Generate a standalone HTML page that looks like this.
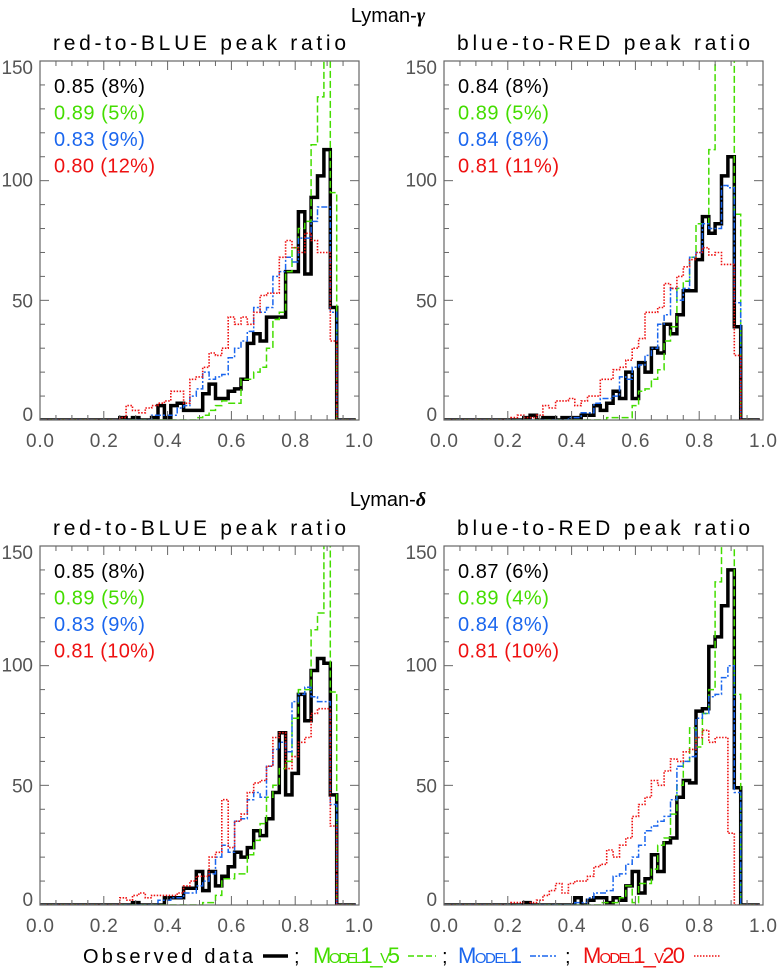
<!DOCTYPE html>
<html><head><meta charset="utf-8">
<style>
html,body{margin:0;padding:0;background:#fff;}
svg{display:block;font-family:"Liberation Sans",sans-serif;}
</style></head>
<body>
<svg id="fig" width="777" height="970" viewBox="0 0 777 970" xmlns="http://www.w3.org/2000/svg">
<defs>
<clipPath id="c0"><rect x="40" y="61" width="319" height="359"/></clipPath>
<clipPath id="c1"><rect x="444" y="61" width="319" height="359"/></clipPath>
<clipPath id="c2"><rect x="40" y="546" width="319" height="359"/></clipPath>
<clipPath id="c3"><rect x="444" y="546" width="319" height="359"/></clipPath>
</defs>
<text x="388" y="22" text-anchor="middle" font-size="20">Lyman-<tspan font-family="Liberation Serif" font-style="italic" font-weight="bold">γ</tspan></text>
<text x="388" y="506" text-anchor="middle" font-size="20">Lyman-<tspan font-family="Liberation Serif" font-style="italic" font-weight="bold">δ</tspan></text>
<g id="panels"></g>
<g font-size="20">
<text x="83" y="963" fill="#000" textLength="170" lengthAdjust="spacing">Observed data</text>
<line x1="263" y1="956" x2="288" y2="956" stroke="#000" stroke-width="3.5"/>
<text x="294" y="963">;</text>
<text x="313" y="963" fill="#44dd00" font-size="22" font-variant="small-caps" textLength="87" lengthAdjust="spacing">Model1_v5</text>
<line x1="408" y1="956" x2="436" y2="956" stroke="#44dd00" stroke-width="1.5" stroke-dasharray="6,3"/>
<text x="442" y="963">;</text>
<text x="458" y="963" fill="#1a66ee" font-size="22" font-variant="small-caps" textLength="64" lengthAdjust="spacing">Model1</text>
<line x1="530" y1="956" x2="556" y2="956" stroke="#1a66ee" stroke-width="1.5" stroke-dasharray="6,2,2,2"/>
<text x="565" y="963">;</text>
<text x="583" y="963" fill="#ee1111" font-size="22" font-variant="small-caps" textLength="102" lengthAdjust="spacing">Model1_v20</text>
<line x1="694" y1="956" x2="721" y2="956" stroke="#ee1111" stroke-width="1.5" stroke-dasharray="1.5,1.5"/>
</g>
</svg>
<script>
// Histogram bins centred at 0.02*k, values listed from k=11 onward (earlier bins are 0)
const binCenters = Array.from({length:50},(_, k)=>k*0.02);
const xTicks = ["0.0","0.2","0.4","0.6","0.8","1.0"];
const yTicks = ["0","50","100","150"];
const titles = ["red-to-BLUE peak ratio","blue-to-RED peak ratio","red-to-BLUE peak ratio","blue-to-RED peak ratio"];
const statsObs = ["0.85 (8%)","0.84 (8%)","0.85 (8%)","0.87 (6%)"];
const statsV5 = ["0.89 (5%)","0.89 (5%)","0.89 (5%)","0.89 (4%)"];
const statsM1 = ["0.83 (9%)","0.84 (8%)","0.83 (9%)","0.84 (8%)"];
const statsV20 = ["0.80 (12%)","0.81 (11%)","0.81 (10%)","0.81 (10%)"];
// k = 11..47
const obsTL = [0,0,1,0,1,0,0,1,6,1,6,7,4,4,4,11,15,9,9,12,13,17,32,36,33,43,43,43,62,62,87,61,93,102,113,47,0];
const v5TL  = [0,0,0,0,0,0,0,0,0,0,0,0,0,0,1,2,4,6,8,7,7,17,17,20,22,30,42,45,62,72,80,83,115,135,170,95,0];
const m1TL  = [0,0,0,0,0,0,0,2,2,2,2,5,6,10,13,20,17,18,19,26,30,33,37,47,45,47,60,62,68,66,76,76,83,89,89,45,0];
const v20TL = [0,0,1,6,4,3,5,6,7,8,12,12,7,17,18,22,28,27,30,43,40,43,40,45,52,53,53,68,75,72,70,78,75,70,70,33,0];
const obsTR = [0,0,1,2,0,1,1,0,1,1,1,2,2,6,4,7,12,9,20,9,24,20,30,28,40,36,44,54,54,67,85,78,82,102,110,39,0];
const v5TR  = [0,0,0,0,0,0,0,0,0,0,0,0,0,0,0,1,1,1,1,6,12,13,17,21,33,39,55,58,68,82,82,113,170,170,170,86,0];
const m1TR  = [0,0,0,0,0,0,0,0,0,1,1,3,3,7,9,9,10,18,17,22,23,27,30,40,44,55,50,55,68,70,82,80,80,98,97,49,0];
const v20TR = [1,2,1,1,2,6,5,8,8,9,6,8,10,10,17,17,21,22,25,30,34,45,45,47,57,55,60,64,67,70,72,69,70,65,65,27,0];
const obsBL = [0,0,0,0,1,0,0,0,0,3,3,3,7,7,14,6,14,8,12,16,22,20,24,31,29,36,47,72,46,55,88,77,98,103,101,46,0];
const v5BL  = [0,0,0,0,0,0,0,0,0,0,0,0,0,0,0,1,1,4,11,11,13,13,21,27,34,45,50,57,60,78,90,90,115,122,170,89,0];
const m1BL  = [0,0,0,0,0,0,0,0,2,2,3,3,5,5,8,10,13,20,25,22,35,36,44,47,45,58,65,68,64,85,88,91,87,85,85,42,0];
const v20BL = [0,0,3,2,4,5,3,4,4,4,4,5,8,10,12,12,20,22,44,24,35,38,47,51,52,58,70,72,57,62,68,70,80,82,82,33,0];
const obsBR = [0,0,1,0,0,0,0,0,0,0,3,0,2,3,3,1,3,2,8,14,5,11,21,14,26,28,45,52,51,81,82,108,112,125,140,49,0];
const v5BR  = [0,0,0,0,0,0,0,0,0,0,0,0,0,0,1,1,1,3,8,1,9,9,15,25,28,38,50,60,74,66,80,90,135,170,170,88,0];
const m1BR  = [0,0,0,0,0,0,0,0,0,0,1,1,3,5,5,6,12,13,17,20,25,31,33,35,37,44,58,60,62,78,80,87,88,95,100,47,0];
const v20BR = [1,1,0,1,2,4,6,9,5,9,10,10,12,16,17,23,20,25,28,37,42,45,52,50,56,61,60,64,65,70,73,68,70,70,30,0,0];

const series = [[obsTL,v5TL,m1TL,v20TL],[obsTR,v5TR,m1TR,v20TR],[obsBL,v5BL,m1BL,v20BL],[obsBR,v5BR,m1BR,v20BR]];
const NS="http://www.w3.org/2000/svg";
const boxes=[{x:40,y:61},{x:444,y:61},{x:40,y:546},{x:444,y:546}];
const W=319,H=359,YMAX=150;
const styles=[
 {c:"#000",w:3.5,d:"",n:"observed"},
 {c:"#44dd00",w:1.5,d:"7,3",n:"model1-v5"},
 {c:"#1a66ee",w:1.5,d:"6,2,2,2",n:"model1"},
 {c:"#ee1111",w:1.6,d:"1.5,1.5",n:"model1-v20"}];
const panelNames=["lyman-gamma-red-to-blue","lyman-gamma-blue-to-red","lyman-delta-red-to-blue","lyman-delta-blue-to-red"];
function mk(t,a,p){const e=document.createElementNS(NS,t);for(const k in a)e.setAttribute(k,a[k]);p.appendChild(e);return e;}
const root=document.getElementById('panels');
boxes.forEach((b,pi)=>{
 const g=mk('g',{},root);
 
 
 const xs=v=>b.x+v*W, ys=v=>b.y+H-v*H/YMAX;
 const t=mk('text',{x:b.x+13,y:b.y-11,'font-size':'21',textLength:293,lengthAdjust:'spacing'},g);t.textContent=titles[pi];
 
 
 series[pi].forEach((arr,si)=>{
  const full=new Array(11).fill(0).concat(arr);
  while(full.length<50)full.push(0);
  let d="";
  binCenters.forEach((c,k)=>{
   const x0=Math.max(0,c-0.01),x1=Math.min(1,c+0.01),y=ys(full[k]);
   d+=(k===0?"M":"L")+xs(x0).toFixed(1)+","+y.toFixed(1)+"L"+xs(x1).toFixed(1)+","+y.toFixed(1);
  });
  const st=styles[si];
  const p=mk('path',{d:d,fill:'none',stroke:st.c,'stroke-width':st.w,'clip-path':'url(#c'+pi+')','stroke-linejoin':'miter'},g);
  if(st.d)p.setAttribute('stroke-dasharray',st.d);
  
  
 });
 const r=mk('rect',{x:b.x,y:b.y,width:W,height:H,fill:'none',stroke:'#666','stroke-width':1.2},g);
 
 
 for(let i=0;i<=20;i++){const v=i*0.05,x=xs(v),L=(i%4===0)?9:5;
  mk('line',{x1:x,y1:b.y+H,x2:x,y2:b.y+H-L,stroke:'#666'},g);
  mk('line',{x1:x,y1:b.y,x2:x,y2:b.y+L,stroke:'#666'},g);}
 for(let i=0;i<=15;i++){const y=ys(i*10),L=(i%5===0)?9:5;
  mk('line',{x1:b.x,y1:y,x2:b.x+L,y2:y,stroke:'#666'},g);
  mk('line',{x1:b.x+W,y1:y,x2:b.x+W-L,y2:y,stroke:'#666'},g);}
 xTicks.forEach((s,i)=>{const e=mk('text',{x:xs(i*0.2)-14,y:b.y+H+27,'font-size':'19',fill:'#555',textLength:28,lengthAdjust:'spacing'},g);e.textContent=s;
  
  });
 yTicks.forEach((s,i)=>{const offs=[1,7,6,13];const y=ys(i*50)+offs[i];
  const wl=s.length*10.5;
  const e=mk('text',{x:b.x-7-wl,y:y,'font-size':'19',fill:'#555',textLength:wl,lengthAdjust:'spacing'},g);e.textContent=s;
  
  });
 [[statsObs,'#000'],[statsV5,'#44dd00'],[statsM1,'#1a66ee'],[statsV20,'#ee1111']].forEach((a,i)=>{
  const s=a[0][pi];
  const e=mk('text',{x:b.x+14,y:b.y+32+i*26.5,'font-size':'20',fill:a[1],textLength:s.length*10.1,lengthAdjust:'spacing'},g);e.textContent=s;
  
  });
});
</script>
</body></html>
